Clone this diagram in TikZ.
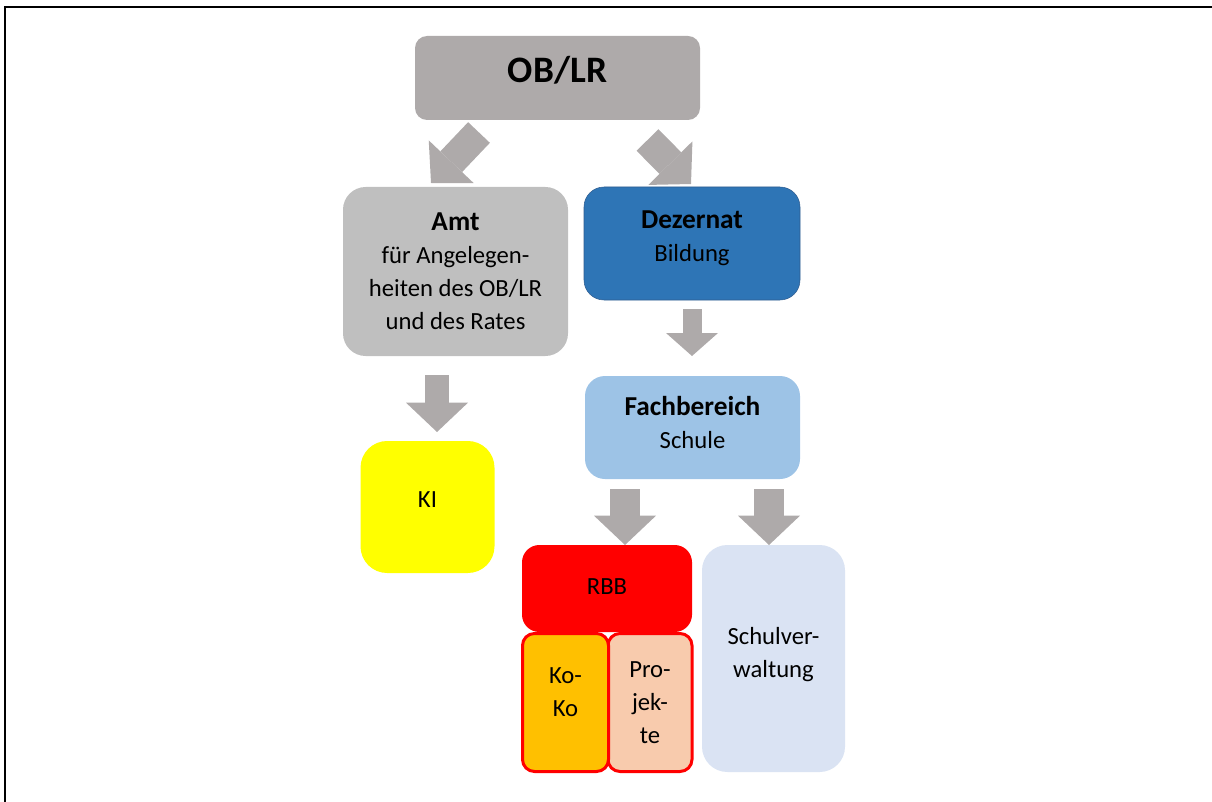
\documentclass[tikz,border=0pt]{standalone}
\usepackage{fontspec}
\setmainfont{Carlito}
\usetikzlibrary{arrows.meta}
\newcommand{\pxl}{0.75pt}
\newcommand{\kopf}{\fontsize{20.5}{24.75}\selectfont\bfseries}
\definecolor{obgray}{HTML}{AEAAAA}
\definecolor{amtgray}{HTML}{BFBFBF}
\definecolor{dezblue}{HTML}{2E75B6}
\definecolor{dezline}{HTML}{2F5C8F}
\definecolor{fachblue}{HTML}{9DC3E6}
\definecolor{kiyellow}{HTML}{FFFF00}
\definecolor{rbbred}{HTML}{FF0000}
\definecolor{kokoorange}{HTML}{FFC000}
\definecolor{projpeach}{HTML}{F8CBAD}
\definecolor{schulblue}{HTML}{DAE3F3}
\tikzset{%
  block/.style    = {rectangle, align=center, inner sep=0pt,
    font=\fontsize{18.5}{24.75}\selectfont},
  subblock/.style = {block, draw=rbbred, line width=2.25pt, rounded corners=9pt},
  fatarrow/.style = {draw=obgray, line width=#1,
    -{Triangle[length=22pt, width=46.5pt, line width=0pt]}},
  fatarrow/.default = 20pt
}

\begin{document}
\begin{tikzpicture}[x=\pxl, y=-\pxl]
  \useasboundingbox (0,0) rectangle (1212,802);
  \draw[line width=1.5pt] (5,802) -- (5,7) -- (1212,7);

  % boxes
  \node[block, fill=obgray, minimum width=285*\pxl, minimum height=84*\pxl,
    rounded corners=9pt, text height=20pt, text depth=12.5pt,
    font=\fontsize{28}{34}\selectfont\bfseries] (ob) at (557.5,78) {OB/LR};
  \node[block, fill=amtgray, minimum width=225*\pxl, minimum height=169*\pxl,
    rounded corners=17pt] (amt) at (455.5,271.5)
    {{\kopf Amt}\\für Angelegen-\\heiten des OB/LR\\und des Rates};
  \node[block, fill=dezblue, draw=dezline, minimum width=216*\pxl, minimum height=113*\pxl,
    rounded corners=15pt, text depth=11.75pt] (dez) at (692,243.5) {{\kopf Dezernat}\\Bildung};
  \node[block, fill=fachblue, minimum width=215*\pxl, minimum height=103*\pxl,
    rounded corners=15pt, text depth=8.25pt] (fach) at (692.5,427.5) {{\kopf Fachbereich}\\Schule};
  \node[block, fill=kiyellow, minimum width=134*\pxl, minimum height=132*\pxl,
    rounded corners=20pt, text height=10pt, text depth=10pt] (ki) at (427.5,507) {KI};
  \node[block, fill=rbbred, minimum width=170*\pxl, minimum height=87*\pxl,
    rounded corners=13pt, text height=12pt, text depth=3.75pt] (rbb) at (607,588.5) {RBB};
  \node[subblock, fill=projpeach, minimum width=84*\pxl, minimum height=138*\pxl]
    (proj) at (650,702.5) {Pro-\\jek-\\te};
  \node[subblock, fill=kokoorange, minimum width=86*\pxl, minimum height=138*\pxl,
    text depth=15.75pt] (koko) at (565.5,702.5) {Ko-\\Ko};
  \node[block, fill=schulblue, minimum width=143*\pxl, minimum height=227*\pxl,
    rounded corners=19pt, text depth=8.75pt] (schul) at (773.5,658.5) {Schulver-\\waltung};

  % arrows
  \coordinate (ob-amt) at (479,132.5);
  \coordinate (amt-in) at (431,183);
  \coordinate (ob-dez) at (647.5,140);
  \coordinate (dez-in) at (691,184);
  \coordinate (amt-ki) at (437,375);
  \coordinate (ki-in) at (437,432);
  \coordinate (dez-fach) at (692,309);
  \coordinate (fach-in) at (692,356);
  \coordinate (fach-rbb) at (625,489);
  \coordinate (rbb-in) at (625,545);
  \coordinate (fach-schul) at (769,489);
  \coordinate (schul-in) at (769,545);

  \draw[fatarrow=22.5pt] (ob-amt) -- (amt-in);
  \draw[fatarrow=23pt] (ob-dez) -- (dez-in);
  \draw[fatarrow=18pt] (amt-ki) -- (ki-in);
  \draw[draw=obgray, line width=14.25pt,
    -{Triangle[length=17.25pt, width=39pt, line width=0pt]}] (dez-fach) -- (fach-in);
  \draw[fatarrow=23pt] (fach-rbb) -- (rbb-in);
  \draw[fatarrow=23pt] (fach-schul) -- (schul-in);
\end{tikzpicture}
\end{document}
